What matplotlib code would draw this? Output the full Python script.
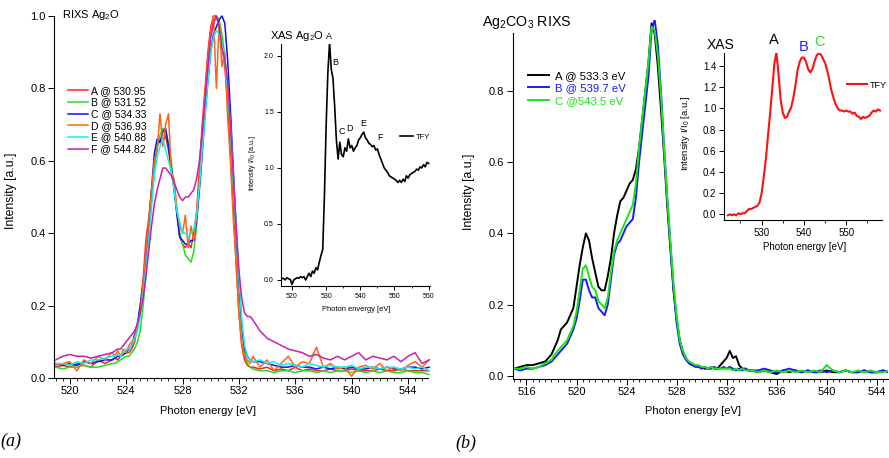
import numpy as np
import matplotlib
matplotlib.use('Agg')
import matplotlib.pyplot as plt
from matplotlib.ticker import MultipleLocator

plt.rcParams['font.family'] = ['Liberation Sans', 'DejaVu Sans']
plt.rcParams['mathtext.default'] = 'regular'

# ---- (a) RIXS Ag2O ----
e_a = np.concatenate([np.linspace(519.0, 523.0, 9),
                      np.linspace(523.2, 533.0, 50),
                      np.linspace(533.5, 545.5, 25)])

rixs_A = [0.030, 0.035, 0.030, 0.040, 0.035, 0.030, 0.050, 0.040, 0.050,
          0.055, 0.050, 0.060, 0.065, 0.070, 0.070, 0.080, 0.100, 0.140, 0.200,
          0.270, 0.380, 0.440, 0.520, 0.580, 0.640, 0.660, 0.650, 0.670, 0.630,
          0.580, 0.520, 0.460, 0.390, 0.370, 0.360, 0.370, 0.360, 0.400, 0.460,
          0.580, 0.700, 0.800, 0.900, 0.970, 1.000, 1.000, 0.970, 0.920, 0.860,
          0.760, 0.620, 0.470, 0.320, 0.180, 0.090, 0.050, 0.035, 0.030, 0.030,
          0.025, 0.030, 0.020, 0.025, 0.020, 0.030, 0.020, 0.025, 0.020, 0.020,
          0.025, 0.020, 0.020, 0.025, 0.020, 0.020, 0.020, 0.025, 0.020, 0.020,
          0.025, 0.020, 0.020, 0.020, 0.020]
rixs_B = [0.030, 0.025, 0.030, 0.030, 0.035, 0.030, 0.030, 0.035, 0.040,
          0.040, 0.045, 0.050, 0.055, 0.060, 0.060, 0.070, 0.080, 0.100, 0.130,
          0.200, 0.280, 0.380, 0.500, 0.580, 0.640, 0.670, 0.690, 0.680, 0.650,
          0.600, 0.520, 0.460, 0.400, 0.370, 0.340, 0.330, 0.320, 0.350, 0.420,
          0.540, 0.660, 0.770, 0.870, 0.950, 0.980, 1.000, 0.990, 0.950, 0.890,
          0.800, 0.680, 0.540, 0.400, 0.260, 0.140, 0.070, 0.040, 0.030, 0.025,
          0.020, 0.020, 0.015, 0.020, 0.020, 0.015, 0.020, 0.020, 0.015, 0.020,
          0.015, 0.020, 0.020, 0.015, 0.020, 0.015, 0.020, 0.015, 0.020, 0.015,
          0.015, 0.020, 0.015, 0.015, 0.010]
rixs_C = [0.040, 0.035, 0.040, 0.035, 0.045, 0.040, 0.045, 0.050, 0.050,
          0.055, 0.060, 0.060, 0.065, 0.070, 0.080, 0.090, 0.120, 0.150, 0.200,
          0.260, 0.330, 0.420, 0.520, 0.620, 0.660, 0.650, 0.680, 0.690, 0.640,
          0.580, 0.530, 0.450, 0.390, 0.380, 0.370, 0.370, 0.380, 0.380, 0.440,
          0.520, 0.620, 0.730, 0.820, 0.900, 0.950, 0.970, 0.990, 1.000, 0.980,
          0.880, 0.740, 0.580, 0.420, 0.270, 0.150, 0.080, 0.060, 0.050, 0.045,
          0.045, 0.040, 0.035, 0.030, 0.030, 0.035, 0.030, 0.030, 0.025, 0.030,
          0.025, 0.030, 0.025, 0.030, 0.025, 0.025, 0.030, 0.025, 0.030, 0.025,
          0.025, 0.030, 0.030, 0.025, 0.030]
rixs_D = [0.035, 0.040, 0.045, 0.020, 0.050, 0.040, 0.060, 0.050, 0.070,
          0.060, 0.075, 0.060, 0.080, 0.070, 0.090, 0.100, 0.110, 0.150, 0.180,
          0.260, 0.350, 0.430, 0.520, 0.600, 0.630, 0.730, 0.640, 0.700, 0.730,
          0.570, 0.550, 0.470, 0.420, 0.400, 0.450, 0.360, 0.420, 0.380, 0.450,
          0.550, 0.680, 0.780, 0.880, 0.960, 1.000, 0.800, 0.980, 0.860, 0.900,
          0.720, 0.600, 0.440, 0.320, 0.180, 0.100, 0.060, 0.050, 0.040, 0.060,
          0.030, 0.050, 0.020, 0.040, 0.060, 0.030, 0.045, 0.040, 0.085, 0.030,
          0.040, 0.025, 0.030, 0.005, 0.030, 0.035, 0.025, 0.040, 0.020, 0.030,
          0.020, 0.035, 0.045, 0.030, 0.050]
rixs_E = [0.040, 0.040, 0.035, 0.045, 0.040, 0.050, 0.050, 0.055, 0.060,
          0.060, 0.065, 0.060, 0.070, 0.080, 0.080, 0.090, 0.110, 0.130, 0.170,
          0.230, 0.300, 0.380, 0.470, 0.560, 0.610, 0.640, 0.660, 0.630, 0.600,
          0.570, 0.520, 0.460, 0.430, 0.400, 0.400, 0.390, 0.400, 0.410, 0.450,
          0.530, 0.630, 0.720, 0.820, 0.900, 0.940, 0.960, 0.950, 0.920, 0.880,
          0.800, 0.700, 0.560, 0.420, 0.280, 0.160, 0.090, 0.060, 0.050, 0.045,
          0.050, 0.040, 0.045, 0.035, 0.040, 0.035, 0.030, 0.040, 0.035, 0.030,
          0.035, 0.030, 0.030, 0.035, 0.025, 0.030, 0.030, 0.025, 0.030, 0.030,
          0.025, 0.030, 0.025, 0.030, 0.020]
rixs_F = [0.050, 0.060, 0.065, 0.060, 0.060, 0.055, 0.060, 0.065, 0.070,
          0.075, 0.080, 0.080, 0.090, 0.100, 0.110, 0.120, 0.130, 0.150, 0.180,
          0.220, 0.280, 0.350, 0.420, 0.480, 0.520, 0.550, 0.580, 0.580, 0.570,
          0.560, 0.540, 0.520, 0.500, 0.490, 0.500, 0.500, 0.510, 0.520, 0.550,
          0.600, 0.680, 0.770, 0.860, 0.940, 0.980, 1.000, 0.970, 0.910, 0.880,
          0.820, 0.700, 0.560, 0.420, 0.300, 0.220, 0.180, 0.170, 0.170, 0.160,
          0.130, 0.110, 0.100, 0.090, 0.080, 0.075, 0.070, 0.060, 0.065, 0.055,
          0.050, 0.060, 0.050, 0.060, 0.070, 0.050, 0.060, 0.055, 0.050, 0.060,
          0.045, 0.060, 0.070, 0.040, 0.050]
labels_a = ['A @ 530.95', 'B @ 531.52', 'C @ 534.33',
            'D @ 536.93', 'E @ 540.88', 'F @ 544.82']
colors_a = ['#ff2020', '#20e020', '#1010f0', '#ff6414', '#10f0f0', '#cc1fa8']

# inset: XAS Ag2O (TFY)
e_xas_a = np.linspace(517.0, 560.0, 87)
tfy_a = [0.01, 0.015, 0.0, 0.02, 0.01, 0.005, -0.04, 0.0, 0.01, 0.02,
         0.015, 0.03, 0.02, 0.03, 0.0, 0.03, 0.06, 0.03, 0.08, 0.06,
         0.11, 0.09, 0.16, 0.22, 0.27, 0.75, 1.38, 1.85, 2.12, 1.88,
         1.80, 1.55, 1.25, 1.08, 1.23, 1.12, 1.10, 1.18, 1.15, 1.26,
         1.18, 1.20, 1.15, 1.18, 1.20, 1.25, 1.27, 1.30, 1.32, 1.27,
         1.25, 1.22, 1.21, 1.19, 1.20, 1.16, 1.17, 1.12, 1.08, 1.04,
         1.00, 0.98, 0.96, 0.93, 0.92, 0.91, 0.90, 0.89, 0.87, 0.89,
         0.87, 0.90, 0.88, 0.93, 0.91, 0.94, 0.95, 0.96, 0.97, 0.99,
         0.98, 1.01, 1.00, 1.03, 1.01, 1.05, 1.04]
marks_a = ['A', 'B', 'C', 'D', 'E', 'F']
marks_a_pos = [(530.9, 2.17), (532.6, 1.94), (534.7, 1.33),
               (536.8, 1.35), (540.85, 1.40), (545.7, 1.27)]

# ---- (b) Ag2CO3 RIXS ----
e_b = np.concatenate([np.linspace(515.0, 517.5, 6),
                      np.linspace(518.0, 534.0, 65),
                      np.linspace(534.5, 545.0, 22)])
rixs_b_A = [0.020, 0.025, 0.030, 0.030, 0.035, 0.040,
            0.060, 0.080, 0.100, 0.130, 0.140, 0.150, 0.170, 0.190,
            0.250, 0.310, 0.360, 0.400, 0.380, 0.330, 0.290, 0.250,
            0.240, 0.240, 0.280, 0.330, 0.400, 0.450, 0.490, 0.500,
            0.520, 0.540, 0.550, 0.580, 0.640, 0.720, 0.800, 0.880,
            0.990, 0.960, 0.870, 0.750, 0.620, 0.480, 0.360, 0.240,
            0.160, 0.100, 0.070, 0.050, 0.035, 0.030, 0.030, 0.025,
            0.025, 0.020, 0.020, 0.025, 0.020, 0.020, 0.030, 0.040,
            0.050, 0.070, 0.050, 0.055, 0.030, 0.020, 0.020, 0.015,
            0.015,
            0.010, 0.015, 0.010, 0.005, 0.015, 0.010, 0.015, 0.010, 0.015, 0.010, 0.010,
            0.015, 0.010, 0.010, 0.015, 0.010, 0.010, 0.015, 0.010, 0.010, 0.015, 0.010]
rixs_b_B = [0.020, 0.015, 0.020, 0.020, 0.025, 0.030,
            0.040, 0.050, 0.060, 0.070, 0.080, 0.090, 0.110, 0.130,
            0.160, 0.210, 0.270, 0.270, 0.240, 0.220, 0.220, 0.190,
            0.180, 0.170, 0.200, 0.270, 0.340, 0.370, 0.380, 0.400,
            0.420, 0.430, 0.440, 0.500, 0.600, 0.680, 0.760, 0.840,
            0.970, 1.000, 0.930, 0.800, 0.640, 0.500, 0.370, 0.250,
            0.150, 0.090, 0.060, 0.045, 0.035, 0.030, 0.025, 0.025,
            0.020, 0.025, 0.020, 0.020, 0.025, 0.020, 0.020, 0.025,
            0.020, 0.025, 0.020, 0.015, 0.020, 0.015, 0.020, 0.015,
            0.015,
            0.015, 0.020, 0.015, 0.010, 0.015, 0.020, 0.015, 0.010, 0.015, 0.010, 0.015,
            0.010, 0.015, 0.010, 0.015, 0.010, 0.010, 0.015, 0.010, 0.010, 0.015, 0.010]
rixs_b_C = [0.020, 0.020, 0.025, 0.020, 0.025, 0.035,
            0.045, 0.060, 0.070, 0.080, 0.090, 0.100, 0.120, 0.140,
            0.180, 0.240, 0.300, 0.310, 0.280, 0.250, 0.240, 0.210,
            0.200, 0.190, 0.220, 0.290, 0.350, 0.380, 0.400, 0.420,
            0.440, 0.460, 0.480, 0.540, 0.640, 0.720, 0.800, 0.880,
            0.980, 0.970, 0.900, 0.790, 0.640, 0.500, 0.380, 0.260,
            0.170, 0.100, 0.070, 0.050, 0.040, 0.035, 0.030, 0.030,
            0.025, 0.025, 0.020, 0.025, 0.020, 0.020, 0.020, 0.020,
            0.020, 0.020, 0.015, 0.020, 0.015, 0.020, 0.015, 0.015,
            0.015,
            0.010, 0.015, 0.010, 0.015, 0.010, 0.015, 0.010, 0.015, 0.010, 0.015, 0.010,
            0.030, 0.015, 0.010, 0.015, 0.010, 0.015, 0.010, 0.015, 0.010, 0.010, 0.015]
labels_b = ['A @ 533.3 eV', 'B @ 539.7 eV', 'C @543.5 eV']
colors_b = ['black', '#1a1aff', '#19e619']

# inset: XAS Ag2CO3 (TFY)
e_xas_b = np.linspace(522.0, 558.0, 73)
tfy_b = [-0.01, 0.0, -0.01, 0.0, -0.01, 0.01, 0.0, 0.01, 0.01, 0.03,
         0.05, 0.05, 0.06, 0.07, 0.08, 0.11, 0.20, 0.35, 0.52, 0.74,
         0.95, 1.18, 1.42, 1.53, 1.32, 1.08, 0.96, 0.91, 0.92, 0.97,
         1.01, 1.10, 1.22, 1.36, 1.44, 1.48, 1.48, 1.44, 1.37, 1.34,
         1.37, 1.44, 1.50, 1.52, 1.51, 1.47, 1.43, 1.36, 1.27, 1.17,
         1.10, 1.04, 1.00, 0.98, 0.98, 0.97, 0.98, 0.97, 0.97, 0.95,
         0.96, 0.93, 0.92, 0.90, 0.92, 0.91, 0.92, 0.93, 0.96, 0.98,
         0.97, 0.99, 0.98]
marks_b = ['A', 'B', 'C']
marks_b_pos = [(533.0, 1.65), (539.9, 1.58), (543.8, 1.63)]

W, H = 889, 458
fig = plt.figure(figsize=(W / 100, H / 100), dpi=100)


def px_axes(x0, x1, ytop, ybot):
    return fig.add_axes([x0 / W, 1 - ybot / H, (x1 - x0) / W, (ybot - ytop) / H])


def igor_style(ax, size, major=4, minor=2):
    ax.spines['top'].set_visible(False)
    ax.spines['right'].set_visible(False)
    for s in ('left', 'bottom'):
        ax.spines[s].set_linewidth(0.8)
    ax.tick_params(which='major', direction='out', length=major, width=0.7,
                   labelsize=size, pad=2)
    ax.tick_params(which='minor', direction='out', length=minor, width=0.6)


# ---- panel (a) main ----
ax1 = px_axes(54.3, 427.7, 16, 378)
for y, lab, c in zip([rixs_A, rixs_B, rixs_C, rixs_D, rixs_E, rixs_F], labels_a, colors_a):
    ax1.plot(e_a, y, color=c, lw=1.1, label=lab, clip_on=False)
ax1.set_xlim(518.9, 545.4)
ax1.set_ylim(0, 1.0)
ax1.xaxis.set_major_locator(MultipleLocator(4))
ax1.xaxis.set_minor_locator(MultipleLocator(0.5))
ax1.yaxis.set_major_locator(MultipleLocator(0.2))
igor_style(ax1, 8)
ax1.set_xlabel('Photon energy [eV]', fontsize=8)
ax1.xaxis.set_label_coords(0.411, -0.077)
ax1.set_ylabel('Intensity [a.u.]', fontsize=8.8)
ax1.yaxis.set_label_coords(-0.1, 0.517)
ax1.legend(loc='upper left', bbox_to_anchor=(0.036, 0.807), frameon=False,
           fontsize=7.5, handlelength=1.9, handletextpad=0.35,
           labelspacing=0.16, borderpad=0, borderaxespad=0)
fig.text(62 / W, 1 - 15 / H, 'RIXS Ag$_2$O', fontsize=8, va='center')

# inset (a)
ax1i = px_axes(280.7, 430, 44, 286)
ax1i.plot(e_xas_a, tfy_a, color='black', lw=1.2, label='TFY')
ax1i.set_xlim(516.7, 560.4)
ax1i.set_ylim(-0.054, 2.107)
ax1i.xaxis.set_major_locator(MultipleLocator(10))
ax1i.xaxis.set_minor_locator(MultipleLocator(5))
ax1i.yaxis.set_major_locator(MultipleLocator(0.5))
igor_style(ax1i, 5, major=3, minor=1.5)
ax1i.set_xlabel('Photon envergy [eV]', fontsize=5.4)
ax1i.xaxis.set_label_coords(0.509, -0.083)
ax1i.set_ylabel('Intensity I/I$_0$ [a.u.]', fontsize=5)
ax1i.yaxis.set_label_coords(-0.152, 0.508)
ax1i.text(-0.072, 1.033, 'XAS Ag$_2$O', transform=ax1i.transAxes,
          fontsize=8, va='center')
for m, (x, y) in zip(marks_a, marks_a_pos):
    ax1i.text(x, y, m, fontsize=6.5, ha='center', va='center')
ax1i.legend(loc='center left', bbox_to_anchor=(0.80, 0.616), frameon=False,
            fontsize=5.5, handlelength=1.7, handletextpad=0.4,
            borderpad=0, borderaxespad=0)

# ---- panel (b) main ----
ax2 = px_axes(512.7, 888, 19.7, 379)
for y, lab, c in zip([rixs_b_A, rixs_b_B, rixs_b_C], labels_b, colors_b):
    ax2.plot(e_b, y, color=c, lw=1.4, label=lab)
ax2.set_xlim(514.9, 544.9)
ax2.set_ylim(-0.009, 1.0)
ax2.set_yticks([0.0, 0.2, 0.4, 0.6, 0.8])
ax2.xaxis.set_major_locator(MultipleLocator(4))
ax2.xaxis.set_minor_locator(MultipleLocator(0.5))
igor_style(ax2, 8)
ax2.spines['left'].set_bounds(-0.009, 0.963)
ax2.set_xlabel('Photon energy [eV]', fontsize=8)
ax2.xaxis.set_label_coords(0.481, -0.075)
ax2.set_ylabel('Intensity [a.u.]', fontsize=8.8)
ax2.yaxis.set_label_coords(-0.1, 0.52)
leg = ax2.legend(loc='upper left', bbox_to_anchor=(0.0416, 0.857), frameon=False,
                 fontsize=8.2, handlelength=1.85, handletextpad=0.5,
                 labelspacing=0.2, borderpad=0, borderaxespad=0)
for t, c in zip(leg.get_texts(), colors_b):
    t.set_color(c)
fig.text(481.7 / W, 1 - 22.5 / H, 'Ag$_2$CO$_3$ RIXS', fontsize=10.3, va='center')

# inset (b)
ax2i = px_axes(724, 881.7, 53, 220)
ax2i.plot(e_xas_b, tfy_b, color='#ff1010', lw=1.5, label='TFY')
ax2i.set_xlim(521.1, 558.4)
ax2i.set_ylim(-0.054, 1.523)
ax2i.xaxis.set_major_locator(MultipleLocator(10))
ax2i.xaxis.set_minor_locator(MultipleLocator(5))
ax2i.yaxis.set_major_locator(MultipleLocator(0.2))
igor_style(ax2i, 7, major=3.5, minor=2)
ax2i.set_xlabel('Photon energy [eV]', fontsize=7)
ax2i.xaxis.set_label_coords(0.514, -0.13)
ax2i.set_ylabel('Intensity I/I$_0$ [a.u.]', fontsize=6.8)
ax2i.yaxis.set_label_coords(-0.203, 0.52)
ax2i.text(-0.108, 1.048, 'XAS', transform=ax2i.transAxes, fontsize=10, va='center')
for m, (x, y), c in zip(marks_b, marks_b_pos, ['black', '#2222ff', '#22dd22']):
    ax2i.text(x, y, m, fontsize=10.5, ha='center', va='center', color=c)
ax2i.legend(loc='center left', bbox_to_anchor=(0.778, 0.808), frameon=False,
            fontsize=6.5, handlelength=2.2, handletextpad=0.4,
            borderpad=0, borderaxespad=0)

fig.text(0, 1 - 441 / H, '(a)', fontsize=13, style='italic',
         family=['Liberation Serif', 'DejaVu Serif'], va='center')
fig.text(455 / W, 1 - 443 / H, '(b)', fontsize=13, style='italic',
         family=['Liberation Serif', 'DejaVu Serif'], va='center')

fig.savefig('out.png', dpi=100)
